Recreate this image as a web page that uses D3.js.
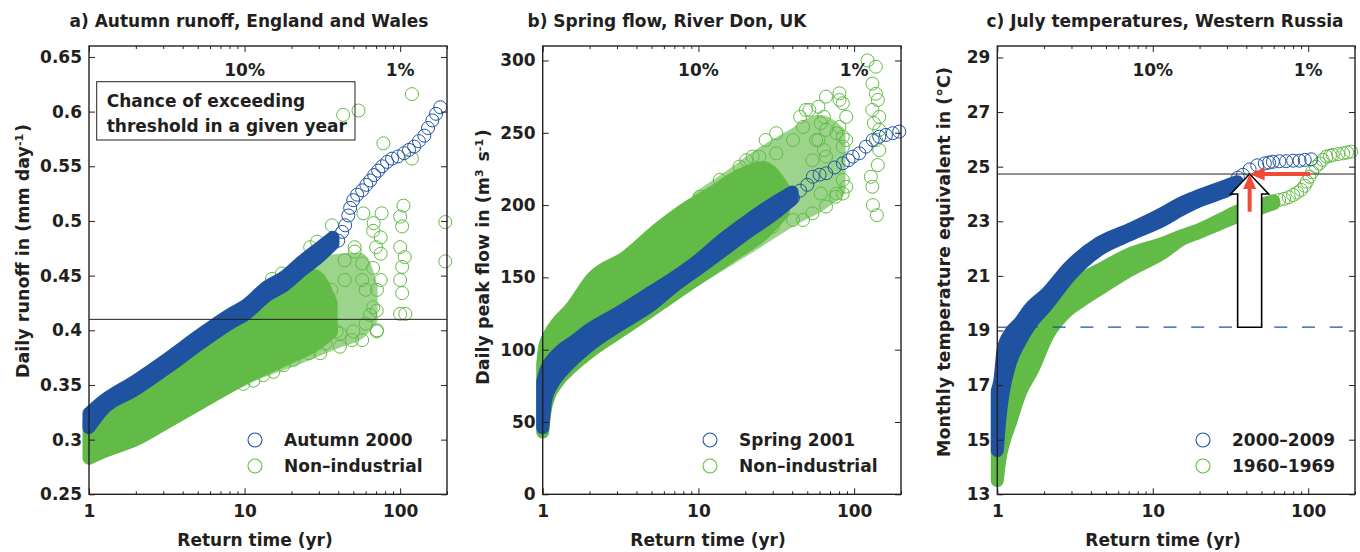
<!DOCTYPE html>
<html>
<head>
<meta charset="utf-8">
<script src="https://cdn.jsdelivr.net/npm/d3@7"></script>
<style>
  body { margin: 0; background: #fff; }
  text { font-family: "DejaVu Sans", sans-serif; font-weight: bold; font-size: 17px; fill: #231f20; }
  .tick text { font-family: "DejaVu Sans", sans-serif; font-size: 17px; fill: #231f20; }
  .tick line { stroke: #231f20; }
  .ylabel { font-size: 17.5px; }
</style>
</head>
<body>
<svg id="fig" width="1360" height="552"></svg>
<script>
// ---- shared ----
var xMajor = [1, 10, 100];
var xMinor = [2, 3, 4, 5, 6, 7, 8, 9, 20, 30, 40, 50, 60, 70, 80, 90, 200];
var pctT = [10, 100];
var pctLabels = ['10%', '1%'];

// ---- a) Autumn runoff, England and Wales ----
var aYTicks = [0.25, 0.3, 0.35, 0.4, 0.45, 0.5, 0.55, 0.6, 0.65];
var aThreshold = 0.41;
var aBlueBandT  = [1, 1.2, 2, 3.2, 5.2, 8.4, 10, 14, 18, 23, 30, 37];
var aBlueBandLo = [0.311, 0.326, 0.346, 0.366, 0.388, 0.408, 0.414, 0.432, 0.441, 0.454, 0.467, 0.479];
var aBlueBandHi = [0.324, 0.334, 0.354, 0.374, 0.396, 0.416, 0.422, 0.440, 0.449, 0.462, 0.475, 0.485];
var aBluePts = [[40,0.482],[42.4,0.490],[44.3,0.496],[46.4,0.505],[47.7,0.512],[49.9,0.519],[52.9,0.524],
  [57,0.528],[60.6,0.533],[64.2,0.537],[68.1,0.542],[72.2,0.546],[76.6,0.550],[82.4,0.554],[88.7,0.557],
  [96.9,0.559],[106,0.562],[114,0.565],[123,0.568],[132,0.573],[143,0.578],[151,0.585],[161,0.592],
  [170,0.598],[181,0.604]];
var aGreenBandT  = [1, 1.3, 2, 3, 5, 7, 10, 14, 20, 28, 36];
var aGreenBandLo = [0.283, 0.290, 0.300, 0.314, 0.332, 0.344, 0.356, 0.366, 0.376, 0.386, 0.398];
var aGreenBandHi = [0.315, 0.325, 0.345, 0.362, 0.386, 0.404, 0.418, 0.436, 0.446, 0.450, 0.425];
var aGreenHazeT  = [8, 15, 25, 40, 55, 65];
var aGreenHazeLo = [0.352, 0.366, 0.378, 0.390, 0.398, 0.410];
var aGreenHazeHi = [0.412, 0.438, 0.456, 0.464, 0.465, 0.440];
var aGreenPts = [[15,0.447],[17.4,0.452],[26.4,0.476],[29.2,0.481],[36.4,0.496],[58,0.507],[67.5,0.498],
  [76,0.507],[105,0.514],[100,0.504],[103,0.495],[100,0.476],[107,0.467],[103,0.458],[100,0.446],
  [103,0.434],[108,0.415],[195,0.499],[195,0.463],[67,0.491],[75,0.485],[70,0.476],[75,0.470],
  [67,0.457],[75,0.446],[71,0.437],[67,0.421],[71,0.400],[60,0.406],[57,0.391],[49,0.391],[41,0.397],
  [36,0.400],[57,0.446],[60,0.437],[57,0.461],[51,0.472],[44,0.464],[51,0.476],[44,0.446],[36,0.437],
  [23,0.437],[9.8,0.351],[11.4,0.354],[13.2,0.359],[15.3,0.362],[17.8,0.368],[20.6,0.373],[26,0.379],
  [30.6,0.379],[33,0.388],[41,0.385],[39,0.399],[50,0.399],[70.7,0.399],[64,0.414],[70.7,0.418],
  [100,0.415],[43,0.597],[54,0.601],[78,0.571],[119,0.616],[119,0.557]];

// ---- b) Spring flow, River Don, UK ----
var bYTicks = [0, 50, 100, 150, 200, 250, 300];
var bBlueBandT  = [1, 1.05, 1.15, 1.3, 1.6, 2, 3, 5, 7, 10, 15, 20, 30, 40];
var bBlueBandLo = [46, 66, 76, 84, 94, 103, 116, 131, 144, 156, 170, 180, 193, 204];
var bBlueBandHi = [78, 86, 93, 99, 106, 114, 125, 140, 150, 162, 178, 188, 201, 209];
var bBluePts = [[40.5,205],[45,210],[50,214],[54.3,219.6],[60,221],[66.2,222],[75,226],[84.6,228.9],
  [92,231],[98,233.5],[108,235.8],[119,240.4],[131.6,245],[145,247.3],[160,248.5],[177,249.7],[195,250.8]];
var bGreenBandT  = [1, 1.03, 1.1, 1.23, 1.5, 2.1, 3.4, 5.6, 8.4, 12, 18, 26, 35];
var bGreenBandLo = [43, 56, 68, 77, 87, 100, 115, 131, 144, 155, 168, 180, 195];
var bGreenBandHi = [90, 102, 110, 118, 128, 150, 164, 184, 198, 208, 220, 226, 212];
var bGreenHazeT  = [10, 16, 25, 40, 60, 80];
var bGreenHazeLo = [150, 163, 176, 190, 200, 210];
var bGreenHazeHi = [205, 220, 235, 248, 258, 250];
var bGreenPts = [[122,300],[138,295.7],[131,284],[138,277],[142,272.7],[131,265.8],[145,261],[134,256.6],
  [145,252],[138,245],[145,238],[142,227.7],[128,219.6],[131,212.7],[140,193],[132,200],
  [80.5,277.3],[84.6,270.4],[89,261],[80.5,254],[84.6,247.3],[84.6,240.4],[89,212.7],[76,205.8],[84.6,208],
  [59,268],[64,261],[61,256.6],[66,252],[59,245],[64,238],[54,231],[61,208],[54,194.3],[66,199],
  [47,189.7],[40.5,245],[45,261],[49,265.8],[31.6,235.8],[27,245],[24.6,233.5],[20.3,231],[18.4,226.6],
  [13.7,217.4],[10.2,205.8],[24.6,180.5],[30,185],[16.7,171.2],[13,162],[10.2,155.1],[40.5,189.7],
  [22.3,233.5],[31.6,249.7],[47,254],[51.6,265.8],[66,275],[80.5,272.7],[77,249.7],[57,245],[89,245],
  [66,233.5],[84.6,217.4],[77,208]];

// ---- c) July temperatures, Western Russia ----
var cYTicks = [13, 15, 17, 19, 21, 23, 25, 27, 29];
var cThreshold = 24.73;
var cBaseline = 19.12;
var cBlueBandT  = [1, 1.04, 1.09, 1.21, 1.4, 1.62, 2.07, 2.93, 4.5, 7.1, 11.7, 15, 20, 28, 35];
var cBlueBandLo = [14.6, 15.8, 16.7, 17.8, 18.6, 19.2, 19.9, 21.0, 21.95, 22.5, 23.05, 23.4, 23.75, 24.05, 24.3];
var cBlueBandHi = [16.8, 17.2, 18.3, 18.9, 19.3, 19.8, 20.35, 21.35, 22.2, 22.7, 23.3, 23.65, 23.95, 24.25, 24.45];
var cBluePts = [[35.3,24.6],[38,24.7],[42,24.9],[47,25.05],[52.6,25.12],[56,25.15],[59.3,25.18],[65.3,25.2],
  [72.1,25.2],[80,25.22],[88,25.22],[95,25.25],[104.5,25.27]];
var cGreenBandT  = [1, 1.04, 1.1, 1.21, 1.4, 1.7, 2.1, 2.8, 3.5, 4.8, 7.1, 11.7, 15, 20, 28, 36, 48, 60];
var cGreenBandLo = [13.5, 14.3, 14.9, 15.6, 16.7, 17.6, 18.8, 19.7, 20.1, 20.6, 21.2, 21.85, 22.3, 22.6, 22.95, 23.2, 23.45, 23.65];
var cGreenBandHi = [16.7, 17.0, 17.3, 17.6, 18.1, 18.7, 19.5, 20.3, 20.85, 21.3, 21.8, 22.2, 22.45, 22.7, 23.1, 23.4, 23.6, 23.75];
var cGreenPts = [[65,23.78],[70,23.82],
  [75,23.88],[80,23.96],[85,24.05],[90,24.15],[95,24.3],[98,24.45],[102,24.63],[106,24.8],[112,25.0],
  [118,25.12],[124,25.25],[131,25.37],[138,25.4],[144,25.43],[156,25.46],[168,25.49],[178,25.52],[189,25.55]];
var cArrowT = 42;
var cRedArrowFromV = 23.35;
var cRedArrowFromT = 103;

var blue = '#1f53a2', green = '#62bb46', red = '#f04b36', ink = '#231f20';
var R = 6.5;

var fig = d3.select('#fig');

function zip(t, lo, hi) { return t.map(function(d, i) { return [d, lo[i], hi[i]]; }); }

function panel(o) {
  var w = o.right - o.left, h = 494.3 - 46;
  var g = fig.append('g').attr('transform', 'translate(' + o.left + ',46)');
  var x = d3.scaleLog().domain([1, 200]).range([0, w]);
  var y = d3.scaleLinear().domain(o.yDomain).range([h, 0]);

  var area = d3.area().curve(d3.curveMonotoneX)
      .x(function(d) { return x(d[0]); })
      .y0(function(d) { return y(d[1]); })
      .y1(function(d) { return y(d[2]); });

  function band(data, color, opacity) {
    g.append('g').attr('opacity', opacity)
      .append('path')
        .datum(data)
        .attr('d', area)
        .attr('fill', color)
        .attr('stroke', color)
        .attr('stroke-width', 2 * R)
        .attr('stroke-linejoin', 'round');
  }
  function pts(data, color) {
    g.append('g').selectAll('circle')
      .data(data)
      .enter()
      .append('circle')
        .attr('cx', function(d) { return x(d[0]); })
        .attr('cy', function(d) { return y(d[1]); })
        .attr('r', R)
        .attr('fill', 'none')
        .attr('stroke', color)
        .attr('stroke-width', 1);
  }

  if (o.greenHaze) band(o.greenHaze, green, 0.62);
  band(o.greenBand, green, 1);
  pts(o.greenPts, green);
  band(o.blueBand, blue, 1);
  pts(o.bluePts, blue);

  if (o.extra) o.extra(g, x, y, w, h);

  // axes, MATLAB style: ticks inside on all four sides
  g.append('g').attr('transform', 'translate(0,' + h + ')')
      .call(d3.axisBottom(x).tickValues(xMajor).tickSize(-6).tickPadding(11).tickFormat(d3.format('d')));
  g.append('g').attr('transform', 'translate(0,' + h + ')')
      .call(d3.axisBottom(x).tickValues(xMinor).tickSize(-3).tickFormat(''));
  g.append('g')
      .call(d3.axisTop(x).tickValues(xMajor).tickSize(-6).tickFormat(''));
  g.append('g')
      .call(d3.axisTop(x).tickValues(xMinor).tickSize(-3).tickFormat(''));
  g.append('g')
      .call(d3.axisLeft(y).tickValues(o.yTicks).tickSize(-6).tickPadding(7)
        .tickFormat(function(d) { return String(+d.toFixed(2)); }));
  g.append('g').attr('transform', 'translate(' + w + ',0)')
      .call(d3.axisRight(y).tickValues(o.yTicks).tickSize(-6).tickFormat(''));
  g.selectAll('.domain').remove();
  g.selectAll('.tick text').attr('font-weight', 'bold');
  g.append('rect')
      .attr('width', w).attr('height', h)
      .attr('fill', 'none').attr('stroke', ink).attr('stroke-width', 1.4);

  // exceedance labels
  g.selectAll('.pct')
    .data(pctT)
    .enter()
    .append('text')
      .attr('x', function(d) { return x(d); })
      .attr('y', 30)
      .attr('text-anchor', 'middle')
      .text(function(d, i) { return pctLabels[i]; });

  // legend
  var lg = g.append('g').attr('transform', 'translate(' + (o.legendX - o.left) + ',394)');
  o.legend.forEach(function(s, i) {
    lg.append('circle').attr('cx', 0).attr('cy', i * 26).attr('r', 7)
      .attr('fill', 'none').attr('stroke', s[1]).attr('stroke-width', 1.1);
    lg.append('text').attr('x', 29).attr('y', i * 26 + 6).text(s[0]);
  });

  // title & axis labels
  fig.append('text').attr('x', o.titleX).attr('y', 27).attr('text-anchor', 'middle').text(o.title);
  fig.append('text').attr('x', o.xLabelX).attr('y', 546).attr('text-anchor', 'middle').text('Return time (yr)');
  var yl = fig.append('text')
      .attr('class', 'ylabel')
      .attr('transform', 'translate(' + o.yLabelX + ',' + o.yLabelY + ') rotate(-90)')
      .attr('text-anchor', 'middle');
  o.yLabel.forEach(function(p) {
    if (p[1]) {
      yl.append('tspan').attr('dy', -6).style('font-size', '11px').text(p[0]);
      yl.append('tspan').attr('dy', 6).text('\u200a');
    } else {
      yl.append('tspan').text(p[0]);
    }
  });
}

panel({
  left: 89, right: 447, yDomain: [0.25, 0.66], yTicks: aYTicks,
  blueBand: zip(aBlueBandT, aBlueBandLo, aBlueBandHi), bluePts: aBluePts,
  greenBand: zip(aGreenBandT, aGreenBandLo, aGreenBandHi),
  greenHaze: zip(aGreenHazeT, aGreenHazeLo, aGreenHazeHi), greenPts: aGreenPts,
  legendX: 255, legend: [['Autumn 2000', blue], ['Non\u2013industrial', green]],
  title: 'a) Autumn runoff, England and Wales', titleX: 249, xLabelX: 255, yLabelX: 29, yLabelY: 251,
  yLabel: [['Daily runoff in (mm day'], ['-1', true], [')']],
  extra: function(g, x, y, w) {
    g.append('line').attr('x1', 0).attr('x2', w)
      .attr('y1', y(aThreshold)).attr('y2', y(aThreshold))
      .attr('stroke', ink).attr('stroke-width', 1);
    g.append('rect').attr('x', 7.7).attr('y', 35.7).attr('width', 258.3).attr('height', 58.3)
      .attr('fill', 'none').attr('stroke', ink).attr('stroke-width', 1);
    g.append('text').attr('x', 17.7).attr('y', 60.5).text('Chance of exceeding');
    g.append('text').attr('x', 17.7).attr('y', 85.5).text('threshold in a given year');
  }
});

panel({
  left: 542.7, right: 901, yDomain: [0, 310], yTicks: bYTicks,
  blueBand: zip(bBlueBandT, bBlueBandLo, bBlueBandHi), bluePts: bBluePts,
  greenBand: zip(bGreenBandT, bGreenBandLo, bGreenBandHi),
  greenHaze: zip(bGreenHazeT, bGreenHazeLo, bGreenHazeHi), greenPts: bGreenPts,
  legendX: 710, legend: [['Spring 2001', blue], ['Non\u2013industrial', green]],
  title: 'b) Spring flow, River Don, UK', titleX: 667, xLabelX: 708, yLabelX: 489, yLabelY: 257,
  yLabel: [['Daily peak flow in (m'], ['3', true], [' s'], ['-1', true], [')']]
});

panel({
  left: 997.3, right: 1355, yDomain: [13, 29.42], yTicks: cYTicks,
  blueBand: zip(cBlueBandT, cBlueBandLo, cBlueBandHi), bluePts: cBluePts,
  greenBand: zip(cGreenBandT, cGreenBandLo, cGreenBandHi), greenPts: cGreenPts,
  legendX: 1203, legend: [['2000\u20132009', blue], ['1960\u20131969', green]],
  title: 'c) July temperatures, Western Russia', titleX: 1165, xLabelX: 1163, yLabelX: 950, yLabelY: 262,
  yLabel: [['Monthly temperature equivalent in (\u00b0C)']],
  extra: function(g, x, y, w) {
    g.append('line').attr('x1', 0).attr('x2', w)
      .attr('y1', y(cThreshold)).attr('y2', y(cThreshold))
      .attr('stroke', ink).attr('stroke-width', 1);
    g.append('line').attr('x1', 0).attr('x2', w)
      .attr('y1', y(cBaseline)).attr('y2', y(cBaseline))
      .attr('stroke', blue).attr('stroke-width', 1.2).attr('stroke-dasharray', '13,14.7');
    // outlined arrow from baseline up to threshold
    var ax = x(cArrowT), tip = y(cThreshold), base = y(cBaseline);
    var sw = 12, hw = 19, hl = 20;
    g.append('path')
      .attr('d', 'M' + (ax - sw) + ',' + base + 'V' + (tip + hl) + 'H' + (ax - hw) +
                 'L' + ax + ',' + tip + 'L' + (ax + hw) + ',' + (tip + hl) + 'H' + (ax + sw) + 'V' + base + 'Z')
      .attr('fill', '#fff').attr('stroke', '#000').attr('stroke-width', 1.6);
    // red arrows
    var ry = y(cRedArrowFromV);
    g.append('line').attr('x1', ax).attr('x2', ax).attr('y1', ry).attr('y2', tip + 12)
      .attr('stroke', red).attr('stroke-width', 4);
    g.append('path').attr('d', 'M' + ax + ',' + tip + 'l-6.5,15h13z').attr('fill', red);
    var rx = x(cRedArrowFromT);
    g.append('line').attr('x1', rx).attr('x2', ax + 12).attr('y1', tip).attr('y2', tip)
      .attr('stroke', red).attr('stroke-width', 4);
    g.append('path').attr('d', 'M' + ax + ',' + tip + 'l15,-6.5v13z').attr('fill', red);
  }
});
</script>
</body>
</html>
